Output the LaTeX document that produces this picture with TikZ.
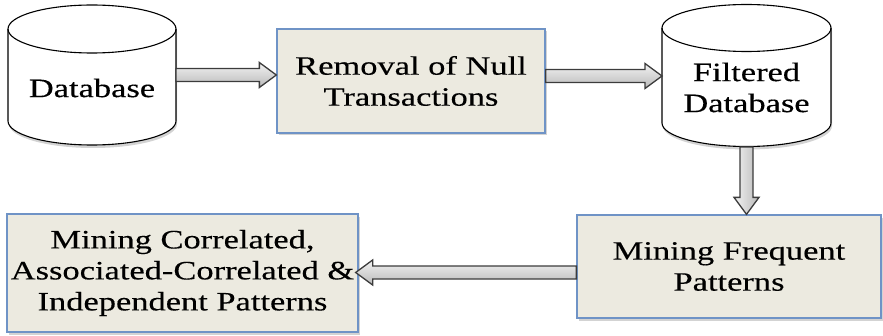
\documentclass[tikz,border=0pt]{standalone}
\usepackage{fontspec}
\setmainfont{Liberation Serif}[FakeStretch=1.3, FakeBold=0.3]
\usetikzlibrary{calc,shadows}

\definecolor{boxfill}{HTML}{ECEAE0}
\definecolor{boxline}{HTML}{6F93C6}
\definecolor{arrowline}{HTML}{3C3C3C}

\tikzset{
  stepbox/.style={draw=boxline, line width=1.3pt, fill=boxfill, align=center,
    font=\fontsize{26.5}{31}\selectfont,
    drop shadow={shadow xshift=2pt, shadow yshift=-2.5pt, opacity=.35}},
  dbarea/.style={inner sep=0pt, outer sep=0pt},
  dbtext/.style={align=center, font=\fontsize{26.5}{31}\selectfont},
  cylbody/.style={draw=black, line width=1.1pt, fill=white,
    drop shadow={shadow xshift=1pt, shadow yshift=-3pt, opacity=.35}},
  fatarrow/.style={draw=arrowline, line width=1.3pt, line join=miter}
}

% Block arrow from #2 to #3; #1 = shading options
\newcommand\blockarrow[3]{%
  \path[fatarrow, #1] let \p1=#2, \p2=#3,
      \n1={atan2(\y2-\y1,\x2-\x1)}, \n2={veclen(\x2-\x1,\y2-\y1)} in
    [shift={(\p1)}, rotate=\n1]
    (0,-6.5) -- (\n2-17,-6.5) -- (\n2-17,-12.5) -- (\n2,0) --
    (\n2-17,12.5) -- (\n2-17,6.5) -- (0,6.5) -- cycle;}

\begin{document}
\begin{tikzpicture}[x=1pt,y=1pt]
\useasboundingbox (0,0) rectangle (883,335);

% ---- cylinder: Database ----
\path[cylbody] (8,306) -- (8,214)
  arc[start angle=180, end angle=360, x radius=84, y radius=24]
  -- (176,306)
  arc[start angle=0, end angle=180, x radius=84, y radius=24] -- cycle;
\draw[line width=1.1pt] (8,306)
  arc[start angle=180, end angle=360, x radius=84, y radius=24];
\node[dbarea, minimum width=168pt, minimum height=140pt] (db) at (92,260) {};
\node[dbtext] (dbt) at (92,247) {Database};

% ---- cylinder: Filtered Database ----
\path[cylbody] (662,307) -- (662,212)
  arc[start angle=180, end angle=360, x radius=84.5, y radius=23.5]
  -- (831,307)
  arc[start angle=0, end angle=180, x radius=84.5, y radius=23.5] -- cycle;
\draw[line width=1.1pt] (662,307)
  arc[start angle=180, end angle=360, x radius=84.5, y radius=23.5];
\node[dbarea, minimum width=169pt, minimum height=142pt] (fdb) at (746.5,259) {};
\node[dbtext] (fdbt) at (746.5,247.5) {Filtered\\Database};

% ---- process boxes ----
\node[stepbox, minimum width=268pt, minimum height=104pt] (rnt) at (411,254)
  {Removal of Null\\Transactions};
\node[stepbox, minimum width=304pt, minimum height=103pt] (mf) at (729,68.5)
  {Mining Frequent\\Patterns};
\node[stepbox, minimum width=351pt, minimum height=118pt] (mc) at (182.5,62)
  {Mining Correlated,\\Associated-Correlated \&\\Independent Patterns};

% ---- connectors ----
\blockarrow{top color=gray!10, bottom color=gray!55}{(db.east)}{(db.east -| rnt.west)}
\blockarrow{top color=gray!10, bottom color=gray!55}{(rnt.east |- fdb.west)}{(fdb.west)}
\blockarrow{left color=gray!10, right color=gray!55}{(fdb.south)}{(fdb.south |- mf.north)}
\blockarrow{top color=gray!10, bottom color=gray!55}{(mf.west |- 0,62.5)}{($(mc.east)+(-3,0.5)$)}
\end{tikzpicture}
\end{document}
